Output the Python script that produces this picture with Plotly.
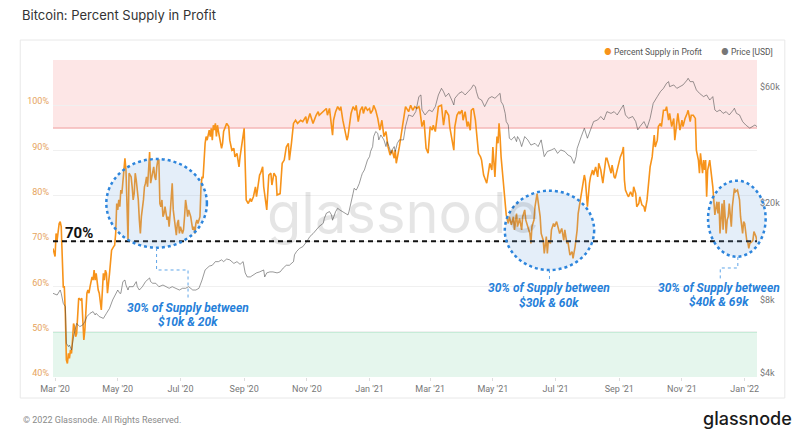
import math
import pandas as pd
import plotly.graph_objects as go

START_DATE = "2020-02-28"

# ---- Percent supply in profit (day offset from START_DATE, percent) ----
supply_day = [
    0, 2, 3, 4, 6, 7, 8, 9, 10, 11, 12, 13, 14, 15, 16, 17, 18, 19, 20, 21, 22, 23, 24, 25, 27, 28, 29, 30,
    31, 32, 33, 34, 35, 36, 38, 39, 40, 41, 42, 44, 45, 47, 48, 49, 50, 51, 52, 53, 55, 56, 57, 59, 60, 61,
    62, 63, 64, 65, 66, 67, 68, 69, 70, 71, 72, 73, 74, 75, 76, 77, 78, 79, 80, 81, 82, 83, 84, 85, 86, 87,
    88, 89, 90, 91, 92, 93, 94, 95, 96, 97, 98, 99, 100, 101, 102, 103, 104, 105, 106, 107, 108, 109, 110,
    111, 112, 113, 114, 115, 116, 117, 118, 119, 120, 121, 122, 123, 124, 126, 127, 128, 129, 130, 131, 132,
    133, 134, 135, 136, 137, 138, 139, 140, 141, 142, 143, 144, 145, 146, 147, 148, 149, 150, 151, 152, 153,
    154, 155, 156, 157, 158, 159, 160, 161, 162, 163, 164, 165, 166,
    169, 171, 172, 174, 176, 177, 179, 181, 182, 184, 186, 188, 190, 192, 193, 195, 197, 198, 201, 202, 204,
    205, 206, 208, 210, 212, 213, 215, 217, 218, 221, 223, 225, 227, 229, 230, 232, 234, 236, 238, 241, 243,
    246, 247, 250, 251, 253, 256, 258, 259, 263, 266, 267, 269, 272, 273, 275, 277, 279, 280, 282, 284, 286,
    287, 290, 292, 294, 295, 297, 299, 301, 302, 304, 306, 308, 309, 311, 312, 314, 316, 318, 320, 322, 324,
    326, 328, 330, 332, 333, 334, 337, 340,
    343, 346, 348, 350, 352, 354, 356, 357, 359, 361, 363, 365, 367, 369, 370, 372, 374, 375, 378, 379, 380,
    382, 383, 385, 386, 388, 390, 391, 393, 395, 396, 398, 399, 401, 403, 404, 406, 407, 409, 411, 412, 414,
    416, 417, 419, 420, 422, 424, 425, 427, 428, 430, 431, 432, 433, 434, 435, 436, 438, 439, 440, 441, 443,
    444, 446, 448, 449, 451, 452, 454, 456, 457, 459, 460, 462, 464, 465, 466, 468, 469, 471, 472, 474, 475,
    477, 478, 480, 481, 482, 484, 485, 487, 488, 490, 492, 493, 495, 497, 498, 500, 501, 503, 505, 506, 508,
    510, 511, 513,
    515, 517, 518, 520, 522, 523, 525, 526, 528, 530, 531, 533, 535, 536, 538, 539, 541, 543, 544, 546, 547,
    549, 551, 552, 554, 555, 556, 557, 559, 560, 562, 564, 565, 567, 568, 570, 571, 573, 575, 576, 578, 580,
    581, 583, 584, 585, 586, 588, 589, 591, 592, 594, 596, 597, 599, 600, 602, 604, 605, 607, 608, 610, 612,
    613, 615, 617, 618, 620, 621, 623, 625, 626, 628, 629, 630, 632, 633, 634, 635, 636, 637, 639, 640, 641,
    642, 644, 646, 647, 648, 649, 651, 652, 653, 655, 656, 657, 658, 660, 661, 663, 664, 666, 667, 668, 669,
    671, 672, 673, 675, 676, 677, 678, 680, 681, 682, 684, 685,
]
supply_pct = [
    68.4, 66.6, 71.7, 70.2, 73.9, 74.3, 73.2, 65.8, 59.9, 59.9, 54.1, 43.8, 43.0, 45.2, 44.1, 46.0, 45.2, 48.2,
    51.8, 51.1, 48.9, 49.6, 55.5, 57.4, 57.0, 57.4, 52.6, 48.2,
    50.4, 54.1, 58.5, 59.2, 58.5, 59.9, 62.1, 61.4, 63.6, 61.4, 62.9, 59.2, 58.5, 54.8, 59.2, 62.9, 61.4, 63.6,
    62.9, 58.5, 62.9, 66.6, 68.0, 68.8, 69.1, 71.7,
    78.3, 76.9, 79.1, 77.6, 81.3, 80.5, 83.5, 85.7, 88.3, 85.7, 79.1, 70.2, 85.0, 84.6, 84.2, 82.0, 79.1, 80.5,
    85.0, 83.5, 81.3, 79.1, 74.7, 71.7, 75.4, 76.9,
    79.1, 82.0, 82.8, 84.2, 82.0, 85.7, 89.7, 82.8, 84.2, 85.7, 86.4, 84.2, 83.5, 86.4, 87.9, 87.9, 78.3, 77.6,
    79.1, 75.4, 76.1, 77.6, 76.1,
    74.7, 75.4, 73.2, 76.1, 81.3, 82.8, 76.9, 74.7, 73.2, 71.3, 73.9, 74.7, 71.7, 73.2, 71.7, 72.5, 75.4, 79.1,
    77.6, 75.4, 76.9,
    76.1, 75.4, 73.9, 72.5, 73.2, 71.7, 73.9, 74.7, 73.9, 74.7, 75.4, 82.0, 84.2, 83.9, 88.6, 91.6, 93.1, 92.3,
    93.4, 94.5, 93.1,
    94.9, 92.3, 95.6, 94.5, 96.0, 93.1, 95.6, 94.2, 92.7, 92.3, 90.5, 91.6, 94.2,
    96.0, 95.3, 92.3, 90.1, 90.5, 88.6, 89.4, 86.4, 88.6, 92.3, 94.9, 79.1, 78.3, 79.4, 78.7, 79.8, 82.0, 79.8,
    84.6, 85.0, 86.4,
    82.0, 80.5, 76.9, 84.6, 85.0, 82.4, 85.0, 84.2, 80.2, 80.5, 87.2, 87.9, 90.8, 91.6, 87.9, 91.6, 96.0, 96.7,
    96.0, 96.7, 96.4,
    97.5, 96.0, 98.2, 97.5, 96.0, 97.8, 98.6, 97.8, 98.6, 99.3, 97.8, 99.3, 93.4, 96.7, 98.6, 99.7, 98.9, 99.7,
    96.7, 94.2, 92.3,
    93.1, 98.2, 99.7, 98.9, 100.0, 96.4, 98.9, 99.7, 98.2, 99.7, 98.9, 99.3, 98.2, 98.9, 100.0, 98.9, 97.1,
    94.5, 96.7, 93.1, 94.2,
    90.8, 89.0, 90.1, 88.3, 90.1, 87.2, 90.8, 95.3,
    99.7, 98.6, 100.0, 98.9, 99.7, 99.3, 99.7, 98.9, 95.3, 96.7, 90.5, 89.4, 95.3, 94.5, 95.6, 94.2, 98.9,
    99.7, 100.0, 98.2, 95.6,
    98.9, 98.6, 97.8, 95.3, 92.7, 90.1, 95.3, 97.8, 98.6, 98.2, 98.9, 96.7, 98.6, 95.3, 96.4, 94.5, 98.9, 99.3,
    96.7, 93.8, 89.4,
    88.6, 87.9, 84.6, 83.9, 82.8, 85.7, 87.2, 85.7, 90.8, 84.2, 87.9, 93.1, 91.6, 96.0, 93.1, 88.6, 83.5, 80.5,
    76.9, 75.8, 73.9,
    75.4, 73.6, 75.4, 72.5, 76.1, 73.2, 75.0, 72.5, 75.4, 76.9, 74.7, 73.2, 71.7, 69.5, 73.2, 74.7, 77.6, 80.5,
    79.1, 75.4, 71.7,
    70.2, 67.3, 71.0, 67.3, 70.2, 69.5, 72.5, 73.9, 73.2, 74.3, 72.5, 71.7, 72.8, 70.2, 72.5, 69.5, 69.9, 66.9,
    67.7, 66.2, 68.8,
    72.5, 76.1, 79.1,
    81.3, 84.6, 83.5, 77.6, 82.8, 84.2, 85.7, 84.6, 86.4, 84.2, 87.2, 85.7, 82.8, 85.0, 88.3, 88.3, 86.4, 85.0,
    86.8, 84.2, 83.9,
    85.7, 87.9, 88.6, 89.7, 90.8, 83.5, 81.3, 80.2, 79.8, 80.9, 79.8, 82.0, 80.5, 77.6, 78.3, 79.8, 78.0, 77.6,
    76.5, 79.1, 84.2,
    86.4, 88.6, 91.6, 93.4, 90.8, 92.3, 95.3, 96.0, 95.3, 98.9, 98.9, 99.7, 96.7, 98.2, 95.3, 97.1, 92.3, 96.7,
    98.2, 94.5, 96.7,
    95.3, 97.1, 98.2, 98.9, 96.4, 97.8, 97.8, 97.1, 90.1, 87.9, 85.0, 89.4, 85.0, 87.9, 85.7, 87.9, 79.8, 85.7,
    87.9, 85.7, 84.6,
    82.0, 75.8, 78.7, 76.1, 78.7, 71.7, 78.3, 72.5, 79.1, 71.7, 74.7, 75.4, 78.3, 73.2, 77.6, 81.6, 80.9, 81.3,
    79.8, 79.1, 75.4,
    71.7, 74.3, 73.9, 70.2, 69.9, 68.4, 69.5, 69.9, 70.2, 72.1, 71.0, 69.9,
]

# ---- BTC price (day offset from START_DATE, USD) ----
price_day = [
    0, 4, 7, 8, 10, 12, 13, 15, 16, 18, 20, 23, 26, 29, 31, 33, 36, 39, 41, 42, 45, 49, 52, 55, 58, 61, 63, 65,
    66, 68, 70, 71, 73, 74, 78, 81, 82, 84, 87, 90, 94, 95, 97, 100, 103, 107, 110, 113, 116, 119, 123, 126,
    129, 132, 136, 139, 142, 145, 148, 152, 155, 158, 161, 164, 166, 169, 172, 176, 179, 182, 185, 187, 189,
    192, 195, 198, 201, 205, 206, 208, 211, 214, 218, 221, 224, 227, 230, 234, 235, 237, 240, 243, 247, 250,
    253, 256, 259, 263, 264, 266, 269, 271, 272, 275, 277, 279, 282, 285, 287, 288, 290, 292, 293, 295, 296,
    298, 300, 301, 303, 304, 306, 308, 309, 311, 312, 314, 316, 317, 319, 321, 322, 324, 325, 327, 329, 330,
    332, 333, 335, 337, 341, 343, 345, 346, 350, 353, 356, 358, 359, 362, 366, 369, 372, 375, 378, 380, 382,
    385, 388, 390, 391, 395, 398, 401, 404, 407, 409, 411, 412, 414, 417, 420, 424, 427, 430, 433, 435, 436,
    438, 440, 441, 443, 444, 446, 449, 451, 452, 454, 456, 459, 462, 465, 469, 472, 475, 478, 481, 485, 488,
    491, 494, 498, 501, 504, 507, 509, 510, 514, 517, 520, 523, 526, 530, 533, 536, 539, 543, 546, 549, 552,
    555, 557, 560, 564, 567, 569, 571, 575, 578, 581, 584, 588, 591, 594, 597, 599, 600, 604, 607, 610, 613,
    617, 618, 620, 623, 626, 629, 633, 636, 639, 642, 644, 646, 649, 652, 655, 658, 662, 663, 665, 668, 671,
    674, 678, 681, 683, 685,
]
price_usd = [
    8820, 8680, 9100, 8820, 8020, 7780, 5500, 5330, 5410, 5160, 5860, 6640, 6440, 6540, 6750, 7080, 7300, 7420,
    7190, 7300, 7080, 6960, 7300, 7650, 8280, 8820, 9100, 8820,
    8820, 9850, 10000, 9540, 9100, 9390, 9390, 9850, 9390, 9100, 9390, 9850, 10200, 9850, 9700, 9700, 9390,
    9540, 9390, 9250, 9390, 9250, 9100, 9250,
    9250, 9390, 9100, 9100, 9250, 10000, 11000, 11400, 11500, 11900, 11900, 12100, 11900, 12200, 12100, 11700,
    11900, 11600, 11900, 10700, 10300,
    10300, 10500, 10700, 10800, 11000, 10300, 10700, 10800, 10800, 10700, 10800, 11200, 11500, 11500, 11900,
    12700, 13100, 13500, 13700, 14400, 15100,
    15500, 16000, 16600, 17100, 17900, 18800, 19100, 18500, 17600, 19100, 19700, 19400, 19100, 18800, 18500,
    19100, 20600, 22700, 23800, 23400, 23800,
    24900, 26600, 27400, 28300, 29200, 31100, 32100, 33700, 35300, 38800, 40700, 40000, 37600, 39400, 38200,
    37600, 35300, 37000, 35300, 33100, 34200,
    35300, 33700, 36400, 37600, 37600, 42600, 46100, 47600, 46900, 49100, 56600, 57500, 49900, 47600, 49900,
    49100, 51500, 57500, 61200, 59300, 56600,
    58400, 54800, 52300, 55700, 58400, 59300, 57500, 59300, 61200, 63200, 62200, 59300, 55700, 54800, 51500,
    55700, 56600, 55700, 57500, 58400, 54000,
    52300, 48300, 44700, 43300, 38200, 37600, 38800, 37000, 38800, 37600, 35300, 38800, 37600, 35800, 36400,
    35300, 37600, 32100, 33700, 34200, 34700,
    33100, 34200, 33700, 32600, 32100, 30100, 32100, 34700, 38800, 42000, 38200, 41300, 44700, 45400, 46900,
    45400, 49100, 48300, 49100, 47600, 49900,
    52300, 47600, 46100, 46900, 44700, 41300, 42600, 44700, 42000, 46100, 53100, 56600, 59300, 61200, 64200,
    65200, 62200, 63200, 61200, 62200, 63200,
    66200, 67300, 65200, 65200, 60300, 58400, 56600, 57500, 54800, 56600, 49900, 49100, 49900, 48300, 49100,
    47600, 49900, 50700, 48300, 47600, 44700,
    43300, 42000, 42600, 43300, 42600,
]

# ---- axis ticks / reference levels ----
pct_tick_vals = [40, 50, 60, 70, 80, 90, 100]
pct_tick_text = ["40%", "50%", "60%", "70%", "80%", "90%", "100%"]
price_tick_vals = [4000, 8000, 20000, 60000]
price_tick_text = ["$4k", "$8k", "$20k", "$60k"]
pct_range = [40, 110]
price_range = [4000, 80000]
x_range = ["2020-02-28", "2022-01-13"]
high_level = 95
low_level = 50
threshold_level = 70

base = pd.Timestamp(START_DATE)
supply_dates = [base + pd.Timedelta(days=d) for d in supply_day]
price_dates = [base + pd.Timedelta(days=d) for d in price_day]

# ---- layout geometry (page pixels; the page body has an 8px margin) ----
OFF = 8
W, H = 800 - 2 * OFF, 441 - 2 * OFF
PL, PR, PT, PB = 53, 762, 60, 377  # plot area in page pixels


def fx(x):
    return (x - PL) / (PR - PL)


def fy(y):
    return (PB - y) / (PB - PT)


ORANGE = "#f7931a"
BLUE = "#2680d9"
FONT = "Roboto, Inter, sans-serif"

fig = go.Figure()
fig.add_trace(go.Scatter(
    x=supply_dates, y=supply_pct, mode="lines", name="Percent Supply in Profit",
    line=dict(color=ORANGE, width=1.6), yaxis="y", showlegend=False,
))
fig.add_trace(go.Scatter(
    x=price_dates, y=price_usd, mode="lines", name="Price [USD]",
    line=dict(color="rgba(70,70,70,0.55)", width=1), yaxis="y2", showlegend=False,
))

shapes = [
    dict(type="rect", xref="paper", yref="paper", x0=fx(20), x1=fx(790), y0=fy(398), y1=fy(40),
         line=dict(color="#e8e8e8", width=1), fillcolor="rgba(0,0,0,0)", layer="below"),
    dict(type="rect", xref="paper", yref="y", x0=0, x1=1, y0=high_level, y1=pct_range[1],
         fillcolor="#fde6e6", line=dict(width=0), layer="below"),
    dict(type="line", xref="paper", yref="y", x0=0, x1=1, y0=high_level, y1=high_level,
         line=dict(color="#f5b7b7", width=1.5), layer="below"),
    dict(type="rect", xref="paper", yref="y", x0=0, x1=1, y0=pct_range[0], y1=low_level,
         fillcolor="#e5f6ed", line=dict(width=0), layer="below"),
    dict(type="line", xref="paper", yref="y", x0=0, x1=1, y0=low_level, y1=low_level,
         line=dict(color="#a7e2c4", width=1.5), layer="below"),
    dict(type="line", xref="paper", yref="y", x0=0, x1=1, y0=threshold_level, y1=threshold_level,
         line=dict(color="#111111", width=2, dash="5px,4px"), layer="above"),
]

ellipses = [(106.7, 208, 159, 247.7), (508, 598, 190.7, 270), (712.7, 770.7, 180.7, 256.7)]
for x0, x1, y0, y1 in ellipses:
    shapes.append(dict(type="circle", xref="paper", yref="paper", x0=fx(x0), x1=fx(x1), y0=fy(y1), y1=fy(y0),
                       fillcolor="rgba(120,170,225,0.2)", line=dict(color="#2d85dc", width=2.5, dash="dot"),
                       layer="above"))

connectors = [
    [(157.3, 248), (157.3, 270), (189, 270), (189, 298)],
    [(553, 270), (553, 281)],
    [(742.7, 257), (742.7, 268), (725, 268), (725, 281)],
]
for pts in connectors:
    path = "M " + " L ".join(f"{fx(x):.5f},{fy(y):.5f}" for x, y in pts)
    shapes.append(dict(type="path", xref="paper", yref="paper", path=path,
                       line=dict(color="#5fa5e8", width=1, dash="dot"), layer="above"))

annotations = [
    dict(text="glassnode", x=fx(405), y=fy(213), xref="paper", yref="paper", showarrow=False,
         xanchor="center", yanchor="middle",
         font=dict(family="Inter, Lato, sans-serif", size=56, color="rgba(0,0,0,0.1)")),
    dict(text="<b>70%</b>", x=fx(79.5), y=fy(233), xref="paper", yref="paper", showarrow=False,
         xanchor="center", yanchor="middle", font=dict(family=FONT, size=15, color="#111111")),
    dict(text=f"<span style='color:{ORANGE}'>●</span> Percent Supply in Profit", x=fx(606), y=fy(52),
         xref="paper", yref="paper", xanchor="left", yanchor="middle", showarrow=False,
         font=dict(family=FONT, size=8.5, color="#555555")),
    dict(text="<span style='color:#777777'>●</span> Price [USD]", x=fx(724), y=fy(52),
         xref="paper", yref="paper", xanchor="left", yanchor="middle", showarrow=False,
         font=dict(family=FONT, size=8.5, color="#555555")),
    dict(text="© 2022 Glassnode. All Rights Reserved.", x=fx(21), y=fy(420), xref="paper", yref="paper",
         xanchor="left", yanchor="middle", showarrow=False, font=dict(family=FONT, size=9, color="#8a8a8a")),
    dict(text="glassnode", x=fx(706), y=fy(418), xref="paper", yref="paper", xanchor="left", yanchor="middle",
         showarrow=False, font=dict(family="Inter, Lato, sans-serif", size=18, color="#1a1a1a", weight=500)),
]

callouts = [
    (188.7, 307.7, 321.7, "30% of Supply between", "$10k & 20k"),
    (553, 288.3, 303.3, "30% of Supply between", "$30k & 60k"),
    (724, 287.7, 301.7, "30% of Supply between", "$40k & 69k"),
]
for cx, y1, y2, t1, t2 in callouts:
    for yy, tt in ((y1, t1), (y2, t2)):
        annotations.append(dict(text=f"<b><i>{tt}</i></b>", x=fx(cx), y=fy(yy), xref="paper", yref="paper",
                                xanchor="center", yanchor="middle", showarrow=False,
                                font=dict(family=FONT, size=12, color=BLUE)))

fig.update_layout(
    width=W, height=H,
    margin=dict(l=PL - OFF, r=(800 - OFF) - PR, t=PT - OFF, b=(441 - OFF) - PB, pad=0),
    paper_bgcolor="white", plot_bgcolor="white",
    title=dict(text="Bitcoin: Percent Supply in Profit", x=(22 - OFF) / W, y=1 - (15 - OFF) / H,
               xanchor="left", yanchor="middle",
               font=dict(family="Inter, sans-serif", size=13, color="#333333")),
    xaxis=dict(type="date", range=x_range, tickformat="%b '%y", dtick="M2", tick0="2020-03-01",
               showgrid=False, zeroline=False, showline=False, ticks="outside", ticklen=3,
               tickcolor="#dddddd", tickfont=dict(family=FONT, size=9, color="#777777")),
    yaxis=dict(range=pct_range, tickvals=pct_tick_vals, ticktext=pct_tick_text, showgrid=True,
               gridcolor="#f0f0f0", gridwidth=1, zeroline=False, showline=False, ticks="",
               ticklabelshift=-4, ticklabelstandoff=3,
               tickfont=dict(family=FONT, size=9, color="#e6a35c")),
    yaxis2=dict(type="log", range=[math.log10(price_range[0]), math.log10(price_range[1])],
                tickvals=price_tick_vals, ticktext=price_tick_text, overlaying="y", side="right",
                showgrid=False, zeroline=False, showline=False, ticks="", ticklabelshift=-4,
                ticklabelstandoff=2, tickfont=dict(family=FONT, size=9, color="#777777")),
    shapes=shapes,
    annotations=annotations,
    showlegend=False,
)

fig.write_html("out.html")
